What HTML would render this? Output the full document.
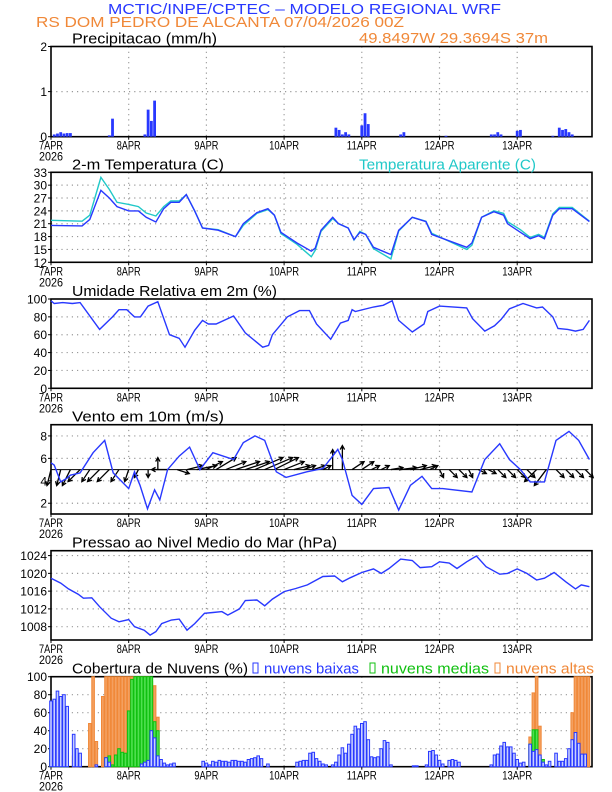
<!DOCTYPE html>
<html><head><meta charset="utf-8"><style>
body{margin:0;background:#fff}
svg{display:block;font-family:"Liberation Sans",sans-serif}
</style></head><body>
<svg id="c" width="612" height="792" viewBox="0 0 612 792" xmlns="http://www.w3.org/2000/svg">
<text x="108" y="14" font-size="15" fill="#2838ff" textLength="393" lengthAdjust="spacingAndGlyphs">MCTIC/INPE/CPTEC – MODELO REGIONAL WRF</text>
<text x="36" y="27" font-size="15" fill="#f08838" textLength="368" lengthAdjust="spacingAndGlyphs">RS DOM PEDRO DE ALCANTA   07/04/2026 00Z</text>
<text x="359" y="43" font-size="15" fill="#f08838" textLength="189" lengthAdjust="spacingAndGlyphs">49.8497W 29.3694S 37m</text>
<g id="g"></g>
</svg>
<script>
// ---- data ----
const dayLabels=["7APR","8APR","9APR","10APR","11APR","12APR","13APR"];
const precipH=[1,2,3,4,5,6,18,19,29,30,31,32,88,89,90,91,92,96,97,98,108,109,122,136,137,138,139,144,145,155,157,158,159,160,161];
const precipV=[0.05,0.07,0.1,0.07,0.08,0.08,0.03,0.4,0.05,0.6,0.35,0.8,0.2,0.15,0.05,0.1,0.05,0.25,0.52,0.28,0.05,0.1,0.02,0.05,0.05,0.1,0.05,0.13,0.15,0.02,0.2,0.15,0.17,0.1,0.05];
const tempH=[0,9.6,12,15.4,18,20.4,24,27,29.4,32.4,34.8,37,39.6,41.8,44.4,46.8,51.6,57,59.4,63.6,67,69,71,76,80.4,81.6,83.4,87,88.8,91.8,93.6,95.4,97.2,99.6,105,107.4,111.6,115.8,117.6,128.4,130,133,136.8,139.8,141,145,148,150.6,152.4,155,157,161,166.3];
const tempV=[20.6,20.5,22,28.8,27,25,24,24,22.5,21.4,24.5,26,26,27.8,24,20,19.5,18,21,23.6,24.5,23,19,16.5,14.6,15.3,19.5,22.5,21,20,17.3,19,18.5,15.5,13.8,19.5,22.5,21.5,18.5,15.5,16.5,22.5,23.8,23,21,19,17.5,18.2,17.5,23,24.5,24.5,21.5];
const appV=[21.8,21.6,23,31.8,29,26,25.5,25,23.5,22.8,25,26.3,26.3,27.8,24,20,19.6,18,20.6,23.4,24.3,23,18.7,16.2,13.3,14.8,19.2,22.2,21,20,17.2,19.2,18.5,15.2,12.8,19.3,22.5,21.6,18.8,15,16,22.5,24,23.4,21.5,19.6,17.8,18.5,17.8,23.3,24.8,24.8,21.6];
const rhH=[0,1,3.6,6.6,9,15,19,21,23.4,25.8,27.6,30,33,36.6,39.6,41.4,44.4,46.8,48.6,51,56.4,60,65.4,67.2,68.4,73,76.8,79.8,82,86.4,89.4,91.8,93,94,99.6,102.6,105.4,107.4,111.6,115.2,116.4,120,128.4,130.2,134,137,139,141.6,145.8,150,151.8,155,156.6,159.6,162,164.4,166.3];
const rhV=[98,95,96,95,96,66,80,88,88,80,80,92,97,60,56,46,65,76,72,72,81,62,46,48,60,80,87,87,72,55,73,76,88,86,91,93,98,76,63,72,86,92,90,78,64,70,77,89,95,90,91,80,67,66,64,66,76];
const windH=[0,1,3,4.8,6,9,13,16.6,19.2,24,25.8,27.5,29.8,32,33.6,36,39.6,42.8,46,50,56.4,59.4,63,66,69.6,72.6,79,84,87,88.6,90,93,96,99.6,104.4,107.4,111,114.6,117.6,121,130,134,138.6,141.6,145,148,152.4,156,160,163,166.3];
const windV=[5.6,5.4,3.9,4.2,4.5,4.7,6.5,7.6,4.7,3.3,4.8,3.6,1.5,3.2,2.3,5.0,6.2,7.0,5.0,6.5,5.9,7.4,8.0,7.6,4.8,4.3,4.8,5.1,6.2,6.8,5.9,2.7,1.9,3.3,3.4,1.4,3.6,4.4,3.3,3.3,3.0,5.9,7.3,5.9,5.0,3.9,3.9,7.6,8.4,7.6,5.9];
const vecH=[0,3,6,9,12,15,18,21,24,27,30,33,36,39,42,45,48,51,54,57,60,63,66,69,72,75,78,81,84,87,90,93,96,99,102,105,108,111,114,117,120,123,126,129,132,135,138,141,144,147,150,153,156,159,162,165];
const vecU=[-1,-1,-2,-3,-2,-3,-3,-2,-1,-1,0,0,-4,3,4,5,4,5,5,6,6,7,7,6,5,4,3,3,2,0,0,3,3,2,2,3,4,4,4,2,1,2,2,1,2,2,2,2,2,2,-3,-3,2,2,2,2];
const vecV=[-4,-4,-4,-3,-3,-3,-3,-3,-3,-2,-2,3,0,-1,1,1,2,3,2,2,2,3,3,3,2,1,1,1,1,5,6,2,2,1,1,0.5,0.5,1,1,1,-2,-2,-2,-2,-1,-1,-2,-2,-2,-2,-3,-4,-2,-2,-2,-2];
const presH=[0,3,5.4,8.4,10,12.6,15,18.6,21,24,25.8,28.8,30.6,32.4,34.2,37.2,39.6,42,44.4,47.4,50,52.8,54.6,58.2,60,63.6,66,68.4,72,75.6,79.2,84,87.6,90,92.4,96,99.6,102,104.4,108,111.6,114,117.6,120,123,125.4,128.4,131.4,134.4,138.6,141,144,147,150,152.4,155.4,159,162,163.8,166.3];
const presV=[1018.9,1017.8,1016.5,1015.3,1014.4,1014.5,1012.5,1009.9,1009.1,1009.6,1008,1007.2,1006.1,1006.9,1008.7,1009.5,1009.7,1007.2,1008.7,1011,1011.2,1011.4,1010.6,1012,1013.9,1014,1012.7,1014.2,1015.9,1016.6,1017.4,1019.3,1019.4,1018.1,1019,1020.2,1021,1020,1021.1,1023.2,1022.9,1021.3,1021.5,1022.6,1022.3,1021.1,1022.6,1023.9,1021.5,1019.8,1020,1021,1020,1018.5,1018.9,1020.2,1018.1,1016.5,1017.4,1017];
const highH=[0,1,2,7,8,12,13,14,16,17,18,19,20,21,22,23,24,25,26,27,28,29,30,31,32,33,148,149,150,151,160,161,162,163,164,165,166];
const highV=[8,42,5,12,8,48,100,28,78,100,100,100,100,100,100,100,100,100,100,100,100,100,100,95,90,55,33,82,100,45,12,60,100,100,100,100,100];
const medH=[0,1,2,3,4,5,17,18,19,20,21,22,23,24,25,26,27,28,29,30,31,32,33,148,149,150,151,152];
const medV=[40,35,60,72,65,16,10,12,2,13,20,16,15,62,97,100,100,100,100,100,100,50,40,25,41,41,10,8];
const lowH=[0,1,2,3,4,5,7,8,9,14,17,18,28,29,30,31,32,33,34,35,36,37,38,47,48,49,50,51,52,53,54,55,56,57,58,59,60,61,62,63,64,65,67,76,77,78,79,80,81,82,83,84,85,87,88,89,90,91,92,93,94,95,96,97,98,99,100,101,102,103,104,105,112,113,116,117,118,119,120,121,123,124,125,126,136,137,138,139,140,141,142,143,144,145,146,148,149,150,151,152,153,154,156,157,158,159,160,161,162,163,164,165,166];
const lowV=[73,75,84,78,80,67,36,20,15,2,10,5,3,5,7,40,32,12,8,4,2,3,4,6,4,2,6,5,7,6,6,5,7,7,6,6,5,8,9,10,12,9,3,5,6,7,7,15,16,9,6,3,2,2,5,13,21,15,25,36,45,42,48,50,30,11,10,11,20,29,27,2,1,1,2,17,18,13,7,3,7,8,7,5,2,13,14,23,27,22,22,15,8,4,5,25,17,19,13,5,2,6,15,6,6,9,20,30,38,26,14,14];
// ---- geometry ----
const X0=51,DAY=77.7,XR=592;
const xs=h=>X0+h*DAY/24;
const G=document.getElementById('g');
const NS='http://www.w3.org/2000/svg';
function mk(tag,at,parent){const e=document.createElementNS(NS,tag);for(const k in at)e.setAttribute(k,at[k]);(parent||G).appendChild(e);return e;}
function panel(name,top,bot,ymin,ymax,ticks,title,tw){
  const ys=v=>bot-(v-ymin)/(ymax-ymin)*(bot-top);
  const g=mk('g',{});
  
  
  for(let d=1;d<7;d++){const l=mk('line',{x1:xs(d*24),x2:xs(d*24),y1:top,y2:bot,stroke:'#999','stroke-dasharray':'1.2,4','stroke-width':1.2},g);
    
    }
  ticks.forEach(t=>{const y=ys(t);
    if(t>ymin&&t<ymax){const l=mk('line',{x1:X0,x2:XR,y1:y,y2:y,stroke:'#999','stroke-dasharray':'1.2,4','stroke-width':1.2},g);
      
      }
    mk('line',{x1:X0-3,x2:X0,y1:y,y2:y,stroke:'#000'},g);
    const tx=mk('text',{x:X0-4,y:y+4.5,'font-size':12,'text-anchor':'end'},g);tx.textContent=t;
    
    });
  dayLabels.forEach((s,i)=>{const x=xs(i*24);
    mk('line',{x1:x,x2:x,y1:bot,y2:bot+3,stroke:'#000'},g);
    const tx=mk('text',{x:x,y:bot+13,'font-size':12,'text-anchor':'middle',textLength:s.length*6,lengthAdjust:'spacingAndGlyphs'},g);tx.textContent=s;
    
    });
  const yr=mk('text',{x:X0,y:bot+24,'font-size':12,'text-anchor':'middle',textLength:24,lengthAdjust:'spacingAndGlyphs'},g);yr.textContent='2026';
  
  
  const fr=mk('rect',{x:X0,y:top,width:XR-X0,height:bot-top,fill:'none',stroke:'#000','stroke-width':1.6},g);
  
  
  const tt=mk('text',{x:72,y:top-3,'font-size':15,textLength:tw,lengthAdjust:'spacingAndGlyphs'},g);tt.textContent=title;
  
  
  return {ys,g};
}
function line(p,H,V,color,name){
  const d=H.map((h,i)=>(i?'L':'M')+xs(h).toFixed(1)+' '+p.ys(V[i]).toFixed(1)).join(' ');
  const e=mk('path',{d:d,fill:'none',stroke:color,'stroke-width':1.4},p.g);
  
  
}
// precip
const P1=panel('precip',46.5,136.7,0,2,[0,1,2],'Precipitacao (mm/h)',145);
precipH.forEach((h,i)=>{const y=P1.ys(precipV[i]);
  const b=mk('rect',{x:xs(h)-1.4,y:y,width:2.8,height:136.7-y,fill:'#2838ff'},P1.g);
  
  });
// temp
const P2=panel('temp',172.3,262.3,12,33,[12,15,18,21,24,27,30,33],'2-m Temperatura (C)',152);
const at=mk('text',{x:359,y:169.3,'font-size':15,fill:'#20c8c8',textLength:177,lengthAdjust:'spacingAndGlyphs'},P2.g);at.textContent='Temperatura Aparente (C)';


line(P2,tempH,appV,'#20c8c8','apparent-temp-line');
line(P2,tempH,tempV,'#2838ff','temp-line');
// rh
const P3=panel('rh',299,388.3,0,100,[0,20,40,60,80,100],'Umidade Relativa em 2m (%)',205);
line(P3,rhH,rhV,'#2838ff','rh-line');
// wind
const P4=panel('wind',424.7,514,1.04,9,[2,4,6,8],'Vento em 10m (m/s)',152);
const by=P4.ys(5);
vecH.forEach((h,i)=>{const x=xs(h),u=vecU[i]*4,v=-vecV[i]*4;
  const x2=x+u,y2=by+v,L=Math.hypot(u,v)||1,ux=u/L,uy=v/L;
  const a=mk('path',{d:`M${x} ${by} L${x2} ${y2} M${x2-ux*4-uy*2.2} ${y2-uy*4+ux*2.2} L${x2} ${y2} L${x2-ux*4+uy*2.2} ${y2-uy*4-ux*2.2}`,stroke:'#000','stroke-width':1.3,fill:'none'},P4.g);
  
  });
mk('line',{x1:xs(0),x2:xs(166),y1:by,y2:by,stroke:'#000','stroke-width':1},P4.g);
line(P4,windH,windV,'#2838ff','wind-speed-line');
// pressure
const P5=panel('pressure',550.7,640,1005,1025.1,[1008,1012,1016,1020,1024],'Pressao ao Nivel Medio do Mar (hPa)',265);
line(P5,presH,presV,'#2838ff','pressure-line');
// clouds
const P6=panel('cloud',676.7,766.7,0,100,[0,20,40,60,80,100],'Cobertura de Nuvens (%)',176);
function bars(H,V,fill,stroke,name){H.forEach((h,i)=>{const y=P6.ys(V[i]);
  const b=mk('rect',{x:xs(h)-1.3,y:y,width:2.6,height:766.7-y,fill:fill,stroke:stroke,'stroke-width':1},P6.g);
  
  });}
bars(highH,highV,'#f4a060','#f08838','cloud-high-bar');
bars(medH,medV,'#50e050','#10c010','cloud-medium-bar');
bars(lowH,lowV,'#c8d0ff','#2838ff','cloud-low-bar');
[['nuvens baixas',253,'#2838ff',95,'legend-low-clouds'],['nuvens medias',370,'#10c010',108,'legend-medium-clouds'],['nuvens altas',495,'#f08838',88,'legend-high-clouds']].forEach(l=>{
  const r=mk('rect',{x:l[1],y:663,width:5,height:10,fill:'none',stroke:l[2],'stroke-width':1},P6.g);
  
  
  const t=mk('text',{x:l[1]+11,y:673.7,'font-size':15,fill:l[2],textLength:l[3],lengthAdjust:'spacingAndGlyphs'},P6.g);t.textContent=l[0];
  
  });
</script>
</body></html>
